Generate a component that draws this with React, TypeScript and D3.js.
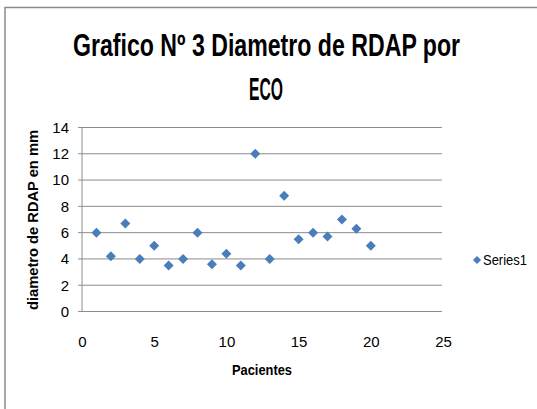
import React, { useLayoutEffect, useRef, useState } from "react";
import * as d3 from "d3";

const patients = [1, 2, 3, 4, 5, 6, 7, 8, 9, 10, 11, 12, 13, 14, 15, 16, 17, 18, 19, 20];
const diameters = [6, 4.2, 6.7, 4, 5, 3.5, 4, 6, 3.6, 4.4, 3.5, 12, 4, 8.8, 5.5, 6, 5.7, 7, 6.3, 5];
const xTicks = [0, 5, 10, 15, 20, 25];
const yTicks = [0, 2, 4, 6, 8, 10, 12, 14];
const titleLines = ["Grafico Nº 3 Diametro de RDAP por", "ECO"];
const xTitle = "Pacientes";
const yTitle = "diametro de RDAP en mm";
const seriesName = "Series1";

const W = 537;
const H = 409;
const FONT = "'Liberation Sans Narrow', 'Liberation Sans', Arial, sans-serif";
const BLUE = "#4A7EBB";
const GRID = "#8c8c8c";
const TITLE_WIDTHS = [387, 34];

export default function App() {
  const x = d3.scaleLinear().domain([0, 25]).range([82, 443]);
  const y = d3.scaleLinear().domain([0, 14]).range([311.5, 127.5]);
  const diamond = d3.symbol(d3.symbolSquare, 50)();
  const legendDiamond = d3.symbol(d3.symbolSquare, 34)();

  const t0 = useRef<SVGTextElement>(null);
  const t1 = useRef<SVGTextElement>(null);
  const [scales, setScales] = useState<number[]>([0.65, 0.5]);

  useLayoutEffect(() => {
    const refs = [t0, t1];
    const s = refs.map((r, i) => {
      const el = r.current;
      if (!el) return 0.6;
      const len = el.getComputedTextLength();
      return len > 0 ? TITLE_WIDTHS[i] / len : 0.6;
    });
    setScales(s);
  }, []);

  return (
    <svg
      width={W}
      height={H}
      style={{ position: "fixed", left: 0, top: 0, background: "#fff" }}
      fontFamily={FONT}
    >
      <rect x={0} y={0} width={W} height={H} fill="#fff" />
      <rect x={5} y={7.5} width={W + 20} height={H + 20} fill="none" stroke="#8a8a8a" strokeWidth={1.5} />

      {/* title */}
      <g transform={`translate(266.5,56) scale(${scales[0]},1)`}>
        <text ref={t0} x={0} y={0} textAnchor="middle" fontSize={31} fontWeight="bold" fill="#000">{titleLines[0]}</text>
      </g>
      <g transform={`translate(266,100) scale(${scales[1]},1)`}>
        <text ref={t1} x={0} y={0} textAnchor="middle" fontSize={31} fontWeight="bold" fill="#000">{titleLines[1]}</text>
      </g>

      {/* gridlines */}
      {yTicks.map((t) => (
        <line key={"g" + t} x1={x(0) - 4} x2={x(25) - 1} y1={y(t)} y2={y(t)} stroke={GRID} strokeWidth={1} />
      ))}
      {/* axes */}
      <line x1={x(0)} x2={x(0)} y1={y(14)} y2={y(0)} stroke={GRID} strokeWidth={1} />
      <line x1={x(0)} x2={x(25) - 1} y1={y(0)} y2={y(0)} stroke={GRID} strokeWidth={1} />

      {/* y tick labels */}
      {yTicks.map((t) => (
        <text key={"yl" + t} x={69} y={y(t)} dy="0.36em" textAnchor="end" fontSize={15} fill="#000">{t}</text>
      ))}
      {/* x tick labels */}
      {xTicks.map((t) => (
        <text key={"xl" + t} x={x(t) + 0.5} y={347} textAnchor="middle" fontSize={15} fill="#000">{t}</text>
      ))}

      {/* axis titles */}
      <text x={262} y={375} textAnchor="middle" fontSize={15} fontWeight="bold" fill="#000"
        textLength={60} lengthAdjust="spacingAndGlyphs">{xTitle}</text>
      <text x={38} y={220} textAnchor="middle" fontSize={14} fontWeight="bold" fill="#000"
        transform="rotate(-90, 38, 220)" textLength={180} lengthAdjust="spacingAndGlyphs">{yTitle}</text>

      {/* points */}
      {patients.map((p, i) => (
        <path key={"p" + p} d={diamond} fill={BLUE}
          transform={`translate(${x(p)},${y(diameters[i])}) rotate(45)`} />
      ))}

      {/* legend */}
      <path d={legendDiamond} fill={BLUE} transform="translate(477,260) rotate(45)" />
      <text x={483} y={260} dy="0.36em" fontSize={14} fill="#000" textLength={44} lengthAdjust="spacingAndGlyphs">{seriesName}</text>
    </svg>
  );
}
